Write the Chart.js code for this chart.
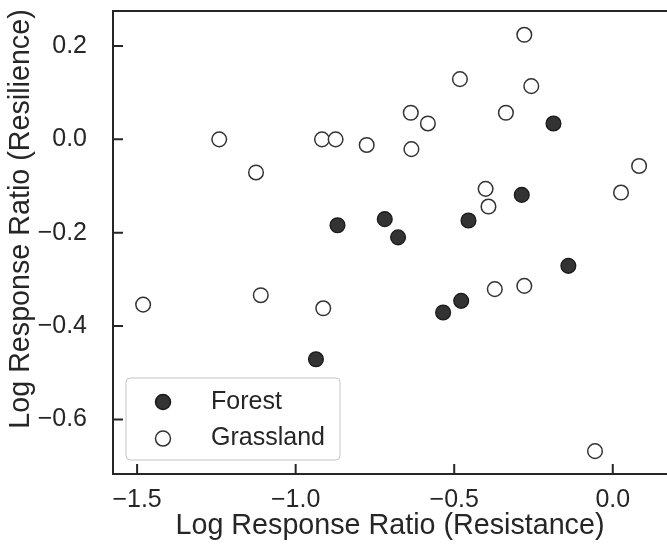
<!DOCTYPE html>
<html>
<head>
    <title>Resistance vs Resilience</title>
    <script src="https://cdn.jsdelivr.net/npm/chart.js"></script>
    <style>
        body { margin: 0; background: #fff; }
        #wrap { width: 667px; height: 547px; position: relative; }
    </style>
</head>
<body>
    <div id="wrap"><canvas id="myChart"></canvas></div>

    <script>
        // values
        const forestX = [-0.868, -0.719, -0.677, -0.455, -0.187, -0.287, -0.140, -0.478, -0.535, -0.936];
        const forestY = [-0.184, -0.171, -0.210, -0.174, 0.034, -0.119, -0.271, -0.346, -0.371, -0.471];
        const grassX = [-1.241, -1.125, -0.917, -0.874, -0.776, -0.279, -0.482, -0.257, -0.637, -0.583, -0.337,
                        -0.635, 0.083, 0.026, -0.401, -0.392, -1.481, -1.110, -0.913, -0.279, -0.372, -0.056];
        const grassY = [0.000, -0.071, 0.000, 0.000, -0.012, 0.224, 0.129, 0.114, 0.057, 0.034, 0.057,
                        -0.021, -0.057, -0.114, -0.106, -0.144, -0.354, -0.334, -0.362, -0.314, -0.321, -0.668];
        const xTicks = [-1.5, -1.0, -0.5, 0.0];
        const yTicks = [-0.6, -0.4, -0.2, 0.0, 0.2];
        const seriesNames = ['Forest', 'Grassland'];
        const xTitle = 'Log Response Ratio (Resistance)';
        const yTitle = 'Log Response Ratio (Resilience)';

        const ink = '#262626';
        const font = 'Liberation Sans, Arial, sans-serif';

        function toPoints(xs, ys) {
            return xs.map((v, i) => ({x: v, y: ys[i]}));
        }
        function fmt(v) {
            return Number(v).toFixed(1).replace('-', '\u2212');
        }
        // stop the tick labels from pushing the plot area in
        function noPad(s) {
            s.paddingTop = 0; s.paddingBottom = 0;
            s.paddingLeft = 0; s.paddingRight = 0;
        }

        // spines, inward ticks, y title and the boxed legend
        const frame = {
            id: 'frame',
            afterDraw(chart) {
                const {ctx, chartArea: a, scales: {x, y}} = chart;
                ctx.save();
                ctx.strokeStyle = ink;
                ctx.lineWidth = 2;
                ctx.beginPath();
                ctx.moveTo(a.right + 2, a.top);
                ctx.lineTo(a.left, a.top);
                ctx.lineTo(a.left, a.bottom);
                ctx.lineTo(a.right + 2, a.bottom);
                x.ticks.forEach(t => {
                    const px = x.getPixelForValue(t.value);
                    ctx.moveTo(px, a.bottom);
                    ctx.lineTo(px, a.bottom - 10);
                });
                y.ticks.forEach(t => {
                    const py = y.getPixelForValue(t.value);
                    ctx.moveTo(a.left, py);
                    ctx.lineTo(a.left + 10, py);
                });
                ctx.stroke();

                // y title sits a little above the middle in the original
                ctx.save();
                ctx.translate(21.5, 219);
                ctx.rotate(-Math.PI / 2);
                ctx.fillStyle = ink;
                ctx.font = '28.7px ' + font;
                ctx.textAlign = 'center';
                ctx.textBaseline = 'middle';
                ctx.fillText(yTitle, 0, 0);
                ctx.restore();

                // legend
                const bx = a.left + 13, by = a.bottom - 96, bw = 214, bh = 82;
                ctx.beginPath();
                ctx.roundRect(bx, by, bw, bh, 4);
                ctx.fillStyle = 'rgba(255,255,255,0.85)';
                ctx.fill();
                ctx.strokeStyle = '#c4c4c4';
                ctx.lineWidth = 1;
                ctx.stroke();
                chart.data.datasets.forEach((ds, i) => {
                    const cy = by + 24 + i * 36.6;
                    ctx.beginPath();
                    ctx.arc(bx + 37, cy, 7.5, 0, Math.PI * 2);
                    ctx.fillStyle = ds.backgroundColor;
                    ctx.fill();
                    ctx.strokeStyle = ds.borderColor;
                    ctx.lineWidth = 1.5;
                    ctx.stroke();
                    ctx.fillStyle = ink;
                    ctx.font = '25px ' + font;
                    ctx.textBaseline = 'middle';
                    ctx.textAlign = 'left';
                    ctx.fillText(ds.label, bx + 85, cy);
                });
                ctx.restore();
            }
        };

        const ctx = document.getElementById('myChart').getContext('2d');
        const myChart = new Chart(ctx, {
            type: 'scatter',
            data: {
                datasets: [{
                    label: seriesNames[0],
                    data: toPoints(forestX, forestY),
                    backgroundColor: '#333333',
                    borderColor: '#1a1a1a',
                    borderWidth: 1.3,
                    pointRadius: 7.4
                }, {
                    label: seriesNames[1],
                    data: toPoints(grassX, grassY),
                    backgroundColor: '#ffffff',
                    borderColor: '#333333',
                    borderWidth: 1.5,
                    pointRadius: 7.3
                }]
            },
            options: {
                responsive: true,
                maintainAspectRatio: false,
                animation: false,
                layout: { autoPadding: false, padding: { top: 11, right: 0, left: 0, bottom: 0 } },
                plugins: {
                    legend: { display: false },
                    tooltip: { enabled: false }
                },
                scales: {
                    x: {
                        type: 'linear',
                        min: -1.576,
                        max: 0.171,
                        afterBuildTicks: s => { s.ticks = xTicks.map(v => ({value: v})); },
                        afterFit: s => { s.height = 73; noPad(s); },
                        grid: { display: false, drawTicks: false },
                        border: { display: false },
                        ticks: {
                            color: ink,
                            padding: 11,
                            font: { family: font, size: 25 },
                            callback: v => fmt(v)
                        },
                        title: {
                            display: true,
                            text: xTitle,
                            color: ink,
                            font: { family: font, size: 28.7 },
                            padding: { top: 0, bottom: 4 }
                        }
                    },
                    y: {
                        type: 'linear',
                        min: -0.717,
                        max: 0.275,
                        afterBuildTicks: s => { s.ticks = yTicks.map(v => ({value: v})); },
                        afterFit: s => { s.width = 113; noPad(s); },
                        grid: { display: false, drawTicks: false },
                        border: { display: false },
                        ticks: {
                            color: ink,
                            padding: 26,
                            font: { family: font, size: 25 },
                            callback: v => fmt(v)
                        },
                        title: { display: false }
                    }
                }
            },
            plugins: [frame]
        });
    </script>
</body>
</html>
